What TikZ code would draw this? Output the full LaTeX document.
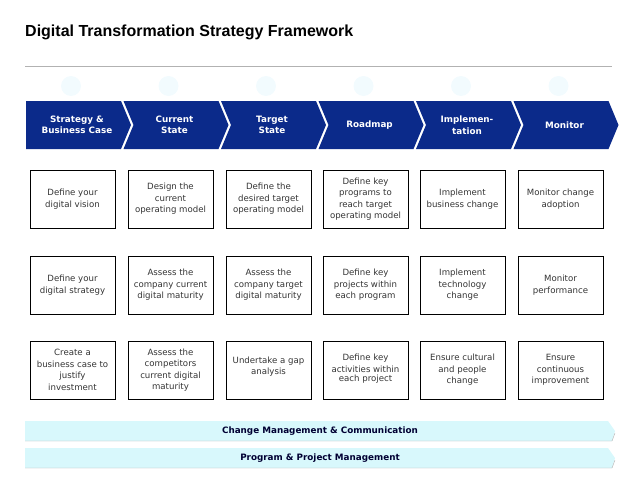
\documentclass[tikz,border=0pt]{standalone}
\usepackage{fontspec}
\setmainfont{DejaVu Sans}
\newfontfamily\titlefont{Liberation Sans}
\definecolor{navy}{HTML}{0B2A8A}
\definecolor{barfill}{HTML}{D8F8FC}
\begin{document}
\begin{tikzpicture}[x=1pt,y=-1pt,
  cell/.style={draw=black,line width=0.6pt,minimum width=85pt,minimum height=58pt,inner sep=1pt,align=center,font=\fontsize{8.6}{11.5}\selectfont,text=black!80},
  chev/.style={font=\bfseries\fontsize{8.8}{11.5}\selectfont,text=white,align=center},
  bartxt/.style={font=\bfseries\fontsize{8.8}{11}\selectfont,text=black!80!blue}]
\useasboundingbox (0,0) rectangle (638,479);
\node[anchor=west,inner sep=0pt,font=\titlefont\bfseries\fontsize{16}{18}\selectfont] (title) at (25,32) {Digital Transformation Strategy Framework};
\draw[gray!60,line width=0.8pt] (25,66) -- (612,66);
\foreach \i in {0,...,5}{
  \fill[cyan!5] ({71+\i*97.5},86) circle (10);
}
\def\tip{10}
\foreach \i/\t in {0/{Strategy \&\\Business Case},1/{Current\\State},2/{Target\\State},3/{Roadmap},4/{Implemen-\\tation},5/{Monitor}}{
  \pgfmathsetmacro{\xa}{26+\i*97.5}
  \pgfmathsetmacro{\xb}{\xa+95}
  \ifnum\i=0
    \fill[navy] (\xa,101) -- (\xb,101) -- (\xb+\tip,125) -- (\xb,149) -- (\xa,149) -- cycle;
  \else
    \fill[navy] (\xa,101) -- (\xb,101) -- (\xb+\tip,125) -- (\xb,149) -- (\xa,149) -- (\xa+\tip,125) -- cycle;
  \fi
  \node[chev] (c\i) at (\xa+51,125) {\t};
}
\node[cell] (a1) at (72.5,199) {Define your\\digital vision};
\node[cell] (b1) at (170.5,199) {Design the\\current\\operating model};
\node[cell] (c1) at (268.5,199) {Define the\\desired target\\operating model};
\node[cell] (d1) at (365.5,199) {Define key\\programs to\\reach target\\operating model};
\node[cell] (e1) at (462.5,199) {Implement\\business change};
\node[cell] (f1) at (560.5,199) {Monitor change\\adoption};
\node[cell] (a2) at (72.5,285) {Define your\\digital strategy};
\node[cell] (b2) at (170.5,285) {Assess the\\company current\\digital maturity};
\node[cell] (c2) at (268.5,285) {Assess the\\company target\\digital maturity};
\node[cell] (d2) at (365.5,285) {Define key\\projects within\\each program};
\node[cell] (e2) at (462.5,285) {Implement\\technology\\change};
\node[cell] (f2) at (560.5,285) {Monitor\\performance};
\node[cell] (a3) at (72.5,370) {Create a\\business case to\\justify\\investment};
\node[cell] (b3) at (170.5,370) {Assess the\\competitors\\current digital\\maturity};
\node[cell] (c3) at (268.5,370) {\raisebox{8pt}{\shortstack{Undertake a gap\\analysis}}};
\node[cell] (d3) at (365.5,370) {\raisebox{4pt}{\shortstack{Define key\\activities within\\each project}}};
\node[cell] (e3) at (462.5,370) {Ensure cultural\\and people\\change};
\node[cell] (f3) at (560.5,370) {Ensure\\continuous\\improvement};
\foreach \y/\t/\n in {421/{Change Management \& Communication}/m1,448/{Program \& Project Management}/m2}{
  \fill[barfill] (25,\y) -- (608,\y) -- (615,\y+10) -- (612,\y+20) -- (25,\y+20) -- cycle;
  \draw[gray!60] (25,\y+20) -- (612,\y+20) -- (615,\y+12);
  \node[bartxt] (\n) at (320,\y+10) {\t};
}
\end{tikzpicture}
\end{document}
